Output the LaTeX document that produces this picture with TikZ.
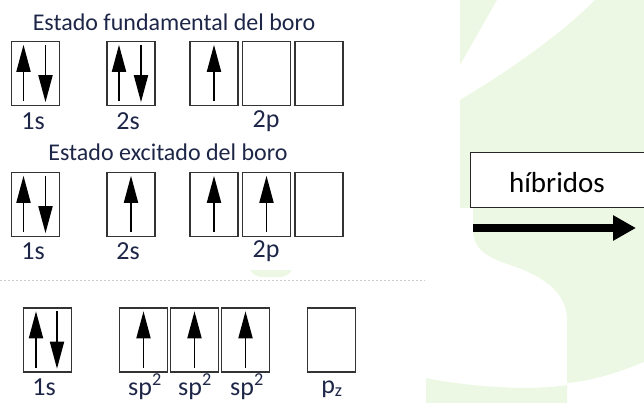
\documentclass[tikz,border=0pt]{standalone}
\usepackage{fontspec}
\setmainfont{Carlito}
\usetikzlibrary{arrows.meta,positioning}

\definecolor{bggreen}{RGB}{236,248,228}
\definecolor{txtblue}{RGB}{30,38,72}

\newcommand{\BW}{48}
\newcommand{\BH}{64}
\newcommand{\elpair}[3]{%
    \draw [elup] ([xshift=#2pt,yshift=5pt]#1.south) -- ([xshift=#2pt,yshift=-4pt]#1.north);
    \draw [eldn] ([xshift=#3pt,yshift=-4pt]#1.north) -- ([xshift=#3pt,yshift=4pt]#1.south);
}
\newcommand{\elsingle}[1]{%
    \draw [elup] ([yshift=5pt]#1.south) -- ([yshift=-4pt]#1.north);
}

\tikzset{
    orb/.style={draw=black!80, line width=1.4pt, minimum width=\BW pt,
        minimum height=\BH pt, inner sep=0pt},
    lbl/.style={text=txtblue, font=\fontsize{26}{28}\selectfont, inner sep=0pt},
    ttl/.style={text=txtblue, font=\fontsize{24}{26}\selectfont, inner sep=0pt},
    elup/.style={line width=1.8pt, -{Triangle[width=14pt,length=27pt]}},
    eldn/.style={line width=1.8pt, -{Triangle[width=14pt,length=27pt]}},
}

\begin{document}
\begin{tikzpicture}[x=1pt,y=-1pt]
        \useasboundingbox (0,0) rectangle (644,403);

        % background
        \fill [bggreen] (460,0) -- (497,0) -- (460,65) -- cycle;
        \fill [bggreen] (595,0) -- (644,0) -- (644,362)
            .. controls (615,374) and (590,381) .. (567,383) -- (567,317)
            .. controls (565,290) and (540,275) .. (510,265)
            .. controls (482,256) and (473,246) .. (473,230)
            -- (473,208) -- (460,208) -- (460,100)
            .. controls (510,70) and (560,35) .. (595,0) -- cycle;
        \fill [bggreen] (426,378) .. controls (470,387) and (530,391) .. (567,385)
            -- (567,403) -- (426,403) -- cycle;
        \fill [bggreen] (250,270) -- (292,270) .. controls (288,275) .. (282,277)
            -- (260,277) .. controls (254,275) .. cycle;
        \draw [black!20, dash pattern=on 2pt off 2pt] (0,280) -- (425,280);

        % estado fundamental
        \path (174,22) node[ttl] (T1) {Estado fundamental del boro};
        \foreach \N/\X in {1/35.5,2/131,3/214,4/266.5,5/319} {
            \node[orb] (F\N) at (\X,73.5) {};
        }
        \elpair{F1}{-12}{10}
        \elpair{F2}{-12}{10}
        \elsingle{F3}
        \path (33,121) node[lbl] (LF1) {1s};
        \path (128,121) node[lbl] (LF2) {2s};
        \path (266,121) node[lbl] (LF3) {2p};

        % estado excitado
        \path (168,152) node[ttl] (T2) {Estado excitado del boro};
        \foreach \N/\X in {1/35.5,2/131,3/214,4/266.5,5/319} {
            \node[orb] (E\N) at (\X,204.5) {};
        }
        \elpair{E1}{-12}{10}
        \elsingle{E2}
        \elsingle{E3}
        \elsingle{E4}
        \path (33,251) node[lbl] (LE1) {1s};
        \path (128,251) node[lbl] (LE2) {2s};
        \path (266,251) node[lbl] (LE3) {2p};

        % hibridos sp2
        \foreach \N/\X in {1/47.5,2/143.5,3/194.5,4/245.5,5/331.5} {
            \node[orb] (H\N) at (\X,340) {};
        }
        \elpair{H1}{-11.5}{9.5}
        \elsingle{H2}
        \elsingle{H3}
        \elsingle{H4}
        \path (44,395) node[lbl, anchor=base] (LH1) {1s};
        \path (145,395) node[lbl, anchor=base] (LH2) {sp\textsuperscript{2}};
        \path (195,395) node[lbl, anchor=base] (LH3) {sp\textsuperscript{2}};
        \path (247,395) node[lbl, anchor=base] (LH4) {sp\textsuperscript{2}};
        \path (332,393) node[lbl, anchor=base] (LH5) {p\textsubscript{z}};

        % flecha
        \node[draw=black!85, line width=1pt, fill=white, minimum width=178pt,
            minimum height=55pt] (HB) at (559,180.5) {};
        \path (557,183) node[font=\fontsize{29}{31}\selectfont, inner sep=0pt] (HT) {híbridos};
        \coordinate (A0) at (473,228);
        \coordinate (A1) at (636,228);
        \draw [line width=8pt, -{Triangle[width=24pt,length=23pt]}] (A0) -- (A1);

    \end{tikzpicture}
\end{document}
